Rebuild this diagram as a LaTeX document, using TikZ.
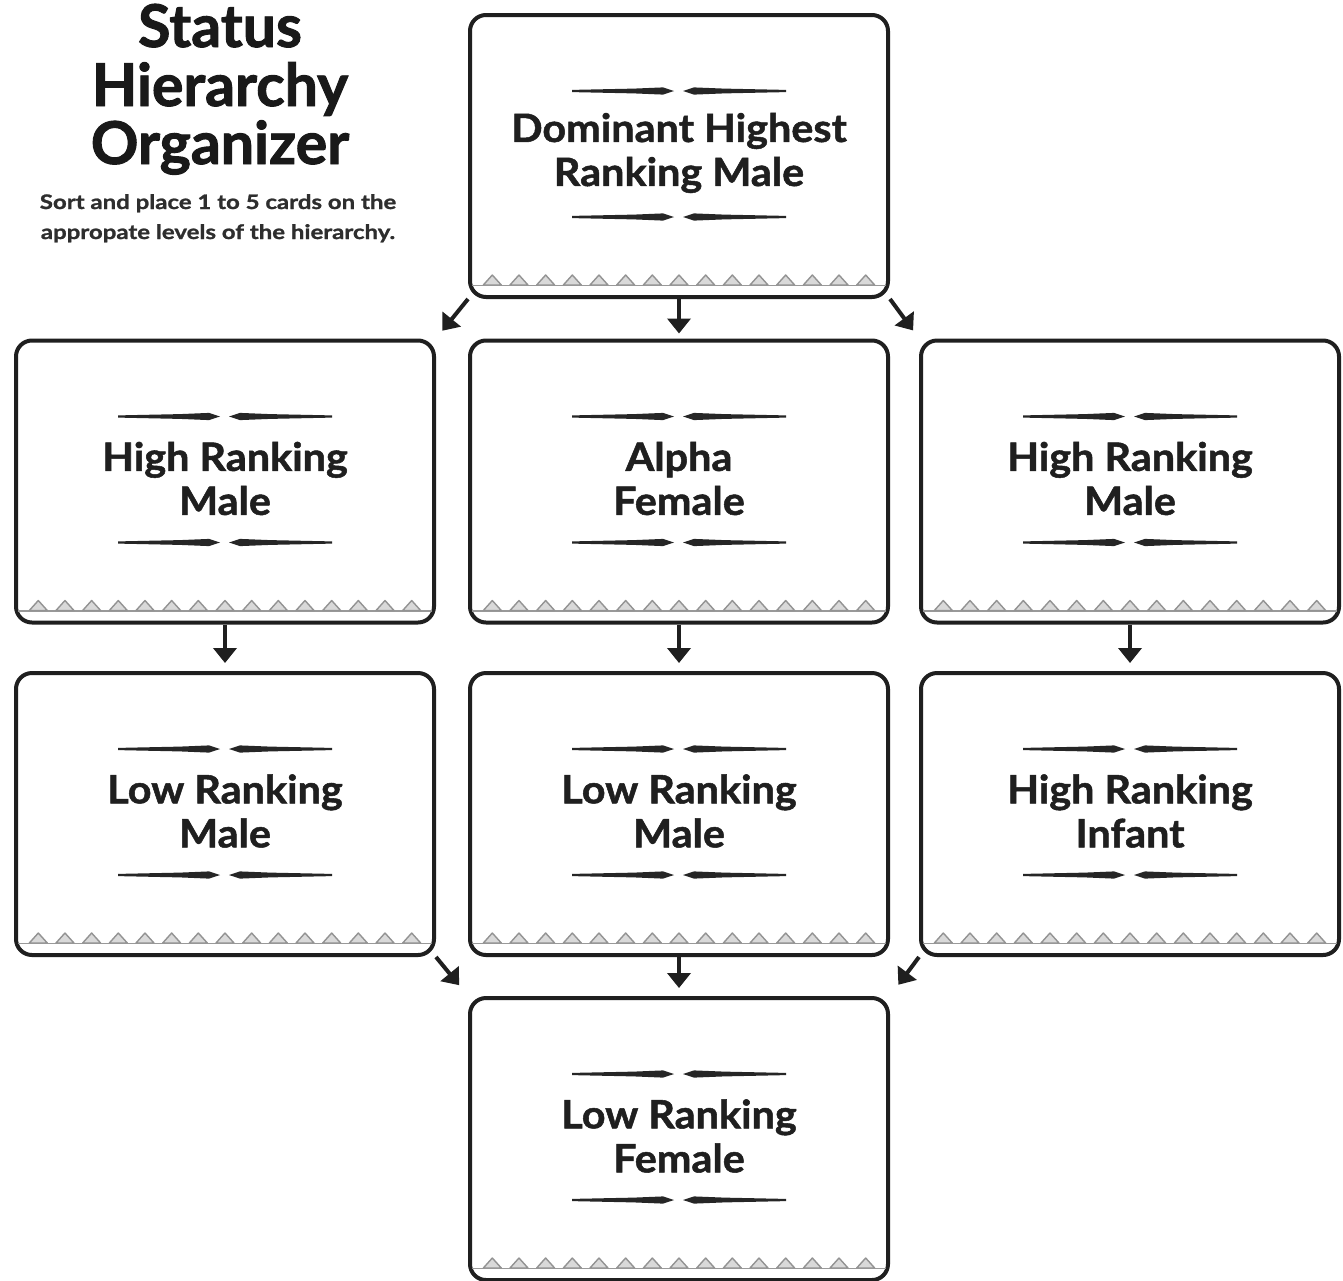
\documentclass[tikz,border=0pt]{standalone}
\usepackage{fontspec}
\setmainfont{Lato}
\newfontfamily\heavyfont{Lato}[BoldFeatures={FakeBold=1.6}]
\newfontfamily\widefont{Lato}[BoldFeatures={FakeBold=1.2,FakeStretch=1.2}]
\newfontfamily\cardfont{Lato}[BoldFeatures={FakeBold=1.3,FakeStretch=1.06}]
\usetikzlibrary{arrows.meta}
\tikzset{
  card/.style={draw=black!88, line width=4pt, rounded corners=16pt, minimum width=418pt, minimum height=282pt, inner sep=0pt, fill=white},
  cardtext/.style={align=center, inner sep=0pt, text=black!88, font=\cardfont\fontsize{39}{44}\selectfont\bfseries},
  conn/.style={draw=black!88, line width=4pt, -{Triangle[length=15pt,width=23pt]}},
  orn/.style={fill=black!85, draw=none},
  tri/.style={draw=gray!85, fill=gray!30, line width=1.4pt, line join=round},
  strip/.style={draw=gray!80, line width=1.6pt},
  titletext/.style={inner sep=0pt, anchor=base, text=black!90, font=\heavyfont\fontsize{59}{60}\selectfont\bfseries},
  subtext/.style={inner sep=0pt, anchor=base, text=black!82, font=\widefont\fontsize{20}{22}\selectfont\bfseries}
}
\newcommand\mkorn[1]{%
  \fill[orn] (-107,#1-1.1) -- (-45,#1-2.4) -- (-16,#1-3.6) -- (-5,#1) -- (-16,#1+3.6) -- (-45,#1+2.4) -- (-107,#1+1.1) -- cycle;
  \fill[orn] (107,#1-1.1) -- (45,#1-2.4) -- (15,#1-3.6) -- (4,#1) -- (15,#1+3.6) -- (45,#1+2.4) -- (107,#1+1.1) -- cycle;
}
\newcommand\mkcard[4]{%
  \node[card] (#1) at (#2,#3) {};
  \begin{scope}[shift={(#2,#3)}]
    \mkorn{-65}
    \mkorn{61}
    \draw[strip] (-207,129.5) -- (207,129.5);
    \foreach \i in {0,...,14} {
      \draw[tri] ({-186.7+\i*26.67-9},129) -- ({-186.7+\i*26.67},119) -- ({-186.7+\i*26.67+9},129) -- cycle;
    }
  \end{scope}
  \node[cardtext] (#1-t) at (#2,#3-3) {#4};
}
\begin{document}
\begin{tikzpicture}[x=1pt,y=-1pt]
\useasboundingbox (0,0) rectangle (1343,1280);
\fill[white] (0,0) rectangle (1343,1280);

% title
\node[titletext] (t1) at (220,47) {Status};
\node[titletext] (t2) at (220,106) {Hierarchy};
\node[titletext] (t3) at (220,164) {Organizer};
\node[subtext] (s1) at (218,209) {Sort and place 1 to 5 cards on the};
\node[subtext] (s2) at (218,239) {appropate levels of the hierarchy.};

% cards
\mkcard{top}{679}{156}{Dominant Highest\\Ranking Male}
\mkcard{ml}{225}{481.5}{High Ranking\\Male}
\mkcard{mc}{679}{481.5}{Alpha\\Female}
\mkcard{mr}{1130}{481.5}{High Ranking\\Male}
\mkcard{bl}{225}{814}{Low Ranking\\Male}
\mkcard{bc}{679}{814}{Low Ranking\\Male}
\mkcard{br}{1130}{814}{High Ranking\\Infant}
\mkcard{lo}{679}{1139}{Low Ranking\\Female}

% connectors
\draw[conn, shorten >=10pt] (top.south west) -- (ml.north east);
\draw[conn, shorten >=5pt] (top.south) -- (mc.north);
\draw[conn, shorten >=10pt] (top.south east) -- (mr.north west);
\draw[conn, shorten >=8pt] (ml.south) -- (bl.north);
\draw[conn, shorten >=8pt] (mc.south) -- (bc.north);
\draw[conn, shorten >=8pt] (mr.south) -- (br.north);
\draw[conn, shorten >=14pt] (bl.south east) -- (lo.north west);
\draw[conn, shorten >=8pt] (bc.south) -- (lo.north);
\draw[conn, shorten >=14pt] (br.south west) -- (lo.north east);
\end{tikzpicture}
\end{document}
